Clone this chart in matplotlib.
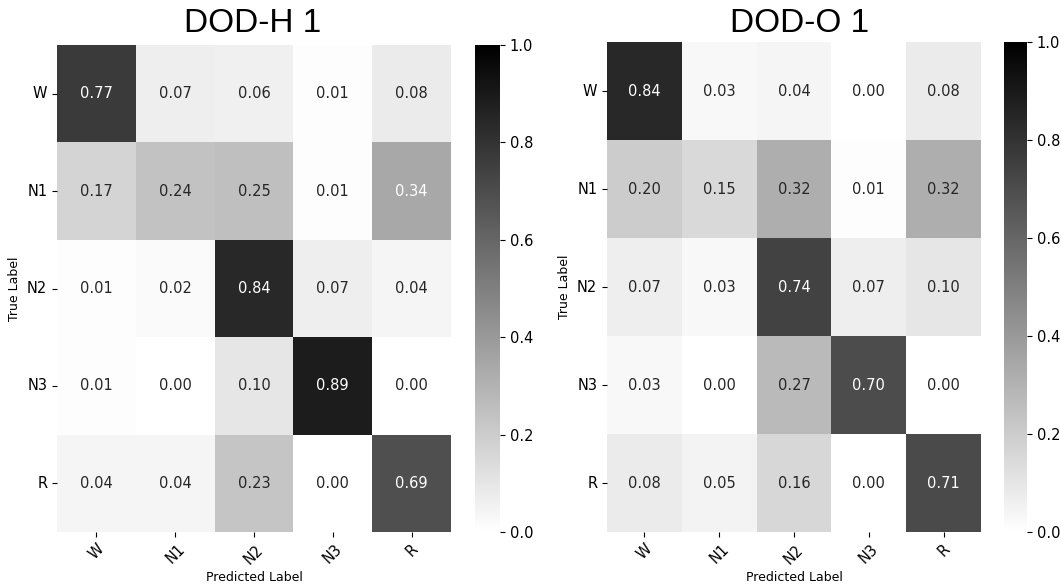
import numpy as np
import matplotlib
matplotlib.use('Agg')
import matplotlib.pyplot as plt
import seaborn as sns

# Stage labels and normalised confusion matrices
stages = ['W', 'N1', 'N2', 'N3', 'R']

cm_dodh = np.array([
    [0.77, 0.07, 0.06, 0.01, 0.08],
    [0.17, 0.24, 0.25, 0.01, 0.34],
    [0.01, 0.02, 0.84, 0.07, 0.04],
    [0.01, 0.00, 0.10, 0.89, 0.00],
    [0.04, 0.04, 0.23, 0.00, 0.69],
])

cm_dodo = np.array([
    [0.84, 0.03, 0.04, 0.00, 0.08],
    [0.20, 0.15, 0.32, 0.01, 0.32],
    [0.07, 0.03, 0.74, 0.07, 0.10],
    [0.03, 0.00, 0.27, 0.70, 0.00],
    [0.08, 0.05, 0.16, 0.00, 0.71],
])

titles = ['DOD-H 1', 'DOD-O 1']

W, H = 1061, 585


def px_box(x0, y0, x1, y1):
    # pixel box (top-left origin) -> figure fraction rect
    return [x0 / W, 1 - y1 / H, (x1 - x0) / W, (y1 - y0) / H]


fig = plt.figure(figsize=(W / 100, H / 100), dpi=100)

layout = [
    (px_box(57, 45, 451, 532), px_box(475, 45, 500, 532), 253),
    (px_box(607, 42, 981, 532), px_box(1004, 42, 1027, 532), 800),
]

for cm, title, (hm_box, cb_box, title_x) in zip([cm_dodh, cm_dodo], titles, layout):
    ax = fig.add_axes(hm_box)
    cax = fig.add_axes(cb_box)
    sns.heatmap(cm, ax=ax, cbar_ax=cax, cmap='gray_r', vmin=0, vmax=1,
                annot=True, fmt='.2f', annot_kws={'fontsize': 10.5},
                xticklabels=stages, yticklabels=stages)
    ax.set_xlabel('Predicted Label', fontsize=9, labelpad=3)
    ax.set_ylabel('True Label', fontsize=9)
    ax.tick_params(axis='both', labelsize=10.5)
    plt.setp(ax.get_xticklabels(), rotation=45)
    plt.setp(ax.get_yticklabels(), rotation=0)
    cax.tick_params(labelsize=10.5)
    fig.text(title_x / W, 1 - 24 / H, title, ha='center', va='center',
             fontsize=24, family='Liberation Sans')

fig.savefig('out.png', dpi=100)
